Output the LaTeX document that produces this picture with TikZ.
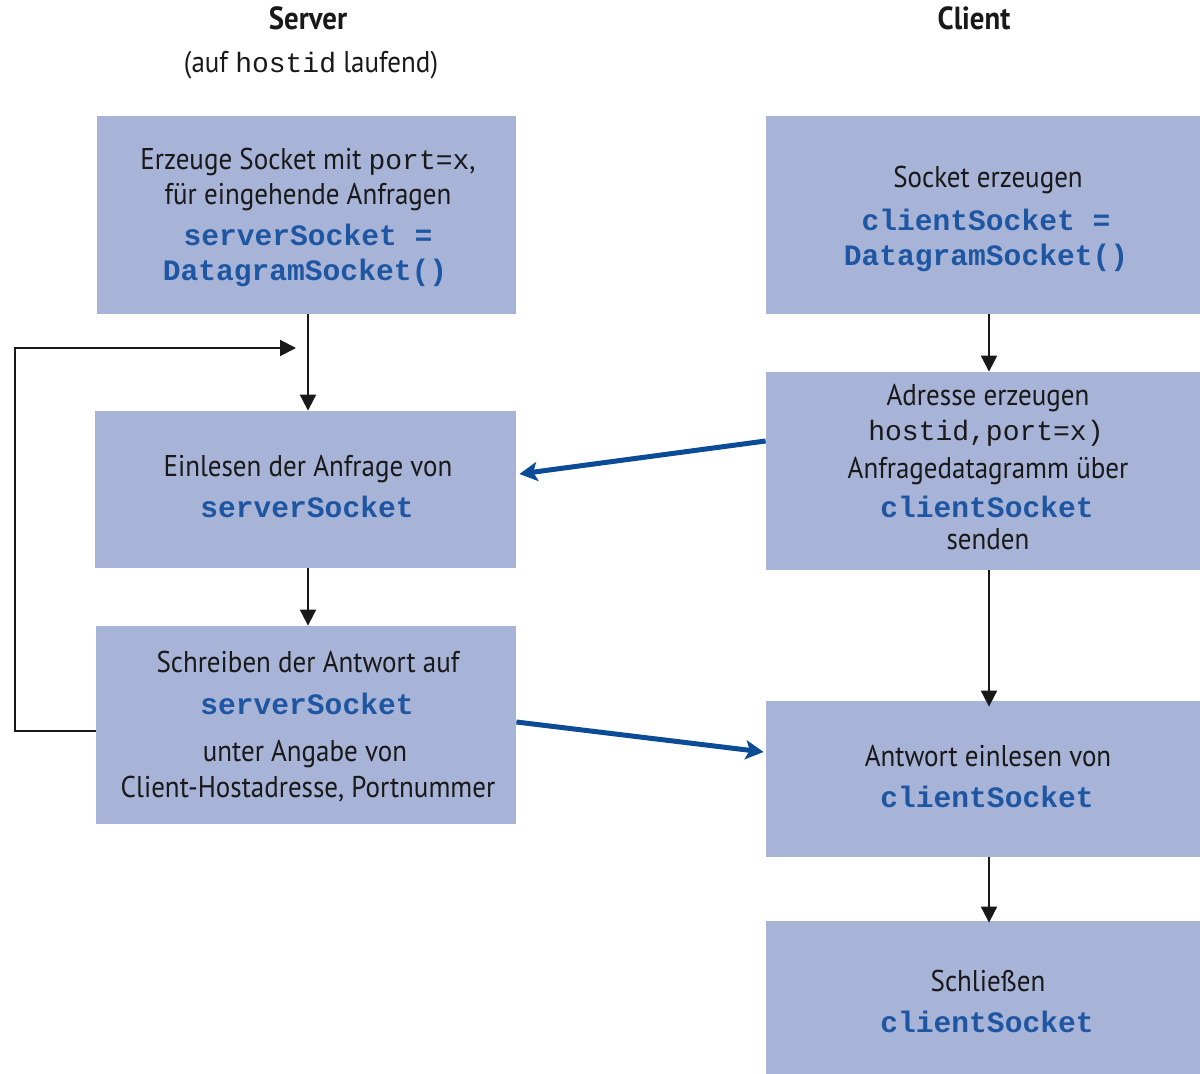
\documentclass[tikz,border=0pt]{standalone}
\usepackage{fontspec}
\setmainfont{PT Sans}[FakeStretch=0.9]
\setmonofont{Liberation Mono}
\usetikzlibrary{arrows.meta,calc}
\definecolor{boxfill}{RGB}{167,179,215}
\definecolor{codeblue}{RGB}{30,86,162}
\definecolor{flowblue}{RGB}{12,76,150}
\definecolor{ink}{RGB}{25,25,25}
\newcommand{\code}[1]{{\fontsize{14.8pt}{16pt}\ttfamily\bfseries\color{codeblue}#1}}
\newcommand{\plain}[1]{{\fontsize{14pt}{16pt}\ttfamily #1}}
\begin{document}
\begin{tikzpicture}[x=0.5pt,y=-0.5pt,
  box/.style={fill=boxfill,draw=none,inner sep=0pt},
  txt/.style={anchor=base,inner sep=0pt,text=ink,font=\fontsize{15pt}{17pt}\selectfont},
  head/.style={txt,font=\fontsize{16pt}{18pt}\selectfont\bfseries},
  flow/.style={draw=ink,line width=1pt,-{Triangle[length=8pt,width=8pt]}},
  msg/.style={draw=flowblue,line width=2.5pt,-{Stealth[length=9pt,width=9.5pt,inset=2pt]}}]
\useasboundingbox (0,0) rectangle (1200,1074);

% column axes for the vertical connectors
\coordinate (sx) at (308,0);
\coordinate (cx) at (989,0);

% headings
\node[head] (hs) at (308,30) {Server};
\node[txt] (hsub) at (311,73) {(auf \plain{hostid} laufend)};
\node[head] (hc) at (974,30) {Client};

% server boxes
\node[box,minimum width=209.5pt,minimum height=99pt] (S1) at (306.5,215) {};
\node[box,minimum width=210.5pt,minimum height=78.5pt] (S2) at (305.5,489.5) {};
\node[box,minimum width=210pt,minimum height=99pt] (S3) at (306,725) {};

% client boxes
\node[box,minimum width=217pt,minimum height=99pt] (C1) at (983,215) {};
\node[box,minimum width=217pt,minimum height=99pt] (C2) at (983,471) {};
\node[box,minimum width=217pt,minimum height=78pt] (C3) at (983,779) {};
\node[box,minimum width=217pt,minimum height=76.5pt] (C4) at (983,997.5) {};

% server texts
\node[txt] (s1a) at (308,170) {Erzeuge Socket mit \plain{port=x},};
\node[txt] (s1b) at (308,205) {für eingehende Anfragen};
\node[txt] (s1c) at (308,246) {\code{serverSocket =}};
\node[txt] (s1d) at (305,281) {\code{DatagramSocket()}};

\node[txt] (s2a) at (308,477) {Einlesen der Anfrage von};
\node[txt] (s2b) at (307,518) {\code{serverSocket}};

\node[txt] (s3a) at (308,673) {Schreiben der Antwort auf};
\node[txt] (s3b) at (307,715) {\code{serverSocket}};
\node[txt] (s3c) at (305,762) {unter Angabe von};
\node[txt] (s3d) at (308,798) {Client-Hostadresse, Portnummer};

% client texts
\node[txt] (c1a) at (988,188) {Socket erzeugen};
\node[txt] (c1b) at (986,231) {\code{clientSocket =}};
\node[txt] (c1c) at (986,266) {\code{DatagramSocket()}};

\node[txt] (c2a) at (988,406) {Adresse erzeugen};
\node[txt] (c2b) at (986,441) {\plain{hostid,port=x)}};
\node[txt] (c2c) at (988,479) {Anfragedatagramm über};
\node[txt] (c2d) at (987,518) {\code{clientSocket}};
\node[txt] (c2e) at (988,550) {senden};

\node[txt] (c3a) at (988,767) {Antwort einlesen von};
\node[txt] (c3b) at (987,807) {\code{clientSocket}};

\node[txt] (c4a) at (988,991) {Schließen};
\node[txt] (c4b) at (987,1032) {\code{clientSocket}};

% server flow
\draw[flow] (sx |- S1.south) -- (sx |- S2.north);
\draw[flow] (sx |- S2.south) -- (sx |- S3.north);
\coordinate (loopin) at (296,348);
\coordinate (loopout) at ($(S3.west)+(0,6)$);
\draw[flow] (loopout) -- (15,731) -- (15,348) -- (loopin);

% client flow
\draw[flow] (cx |- C1.south) -- (cx |- C2.north);
\draw[flow] (cx |- C2.south) -- ([yshift=-3pt]cx |- C3.north);
\draw[flow] (cx |- C3.south) -- ([yshift=-1pt]cx |- C4.north);

% datagrams between the two sides
\draw[msg] ($(C2.west)+(0,-30)$) -- ($(S2.east)+(3,-15.5)$);
\draw[msg] ($(S3.east)+(0,-3)$) -- ($(C3.west)+(-2,-27)$);
\end{tikzpicture}
\end{document}
